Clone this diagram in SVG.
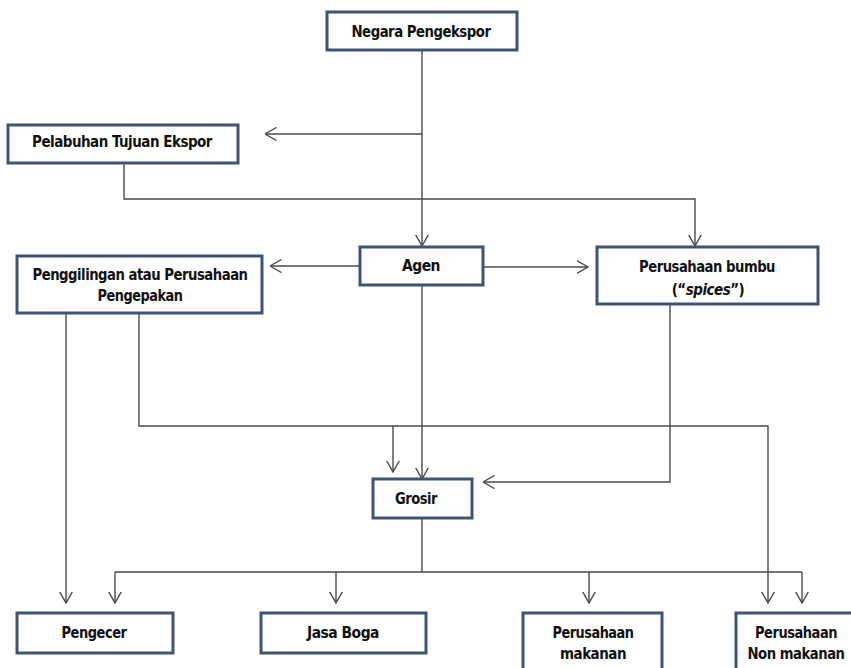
<svg xmlns="http://www.w3.org/2000/svg" width="851" height="668" viewBox="0 0 851 668">
<defs>
<marker id="arr" markerUnits="userSpaceOnUse" viewBox="0 0 12 14" refX="11.5" refY="7" markerWidth="12" markerHeight="14" orient="auto">
<path d="M0,0.5 L11.5,7 L0,13.5" fill="none" stroke="#4a4a4a" stroke-width="1.4"/>
</marker>
<style>
.box{fill:#fff;stroke:#3e5470;stroke-width:3}
.t{font-family:"DejaVu Sans Condensed","DejaVu Sans","Liberation Sans",sans-serif;font-stretch:condensed;font-weight:bold;font-size:15px;fill:#111;text-anchor:middle;letter-spacing:-0.5px}
.c{fill:none;stroke:#4a4a4a;stroke-width:1.4}
.a{marker-end:url(#arr)}
</style>
</defs>
<rect width="851" height="668" fill="#fff"/>
<g id="connectors">
<path class="c a" d="M422,51 V246"/>
<path class="c a" d="M422,134 H265"/>
<path class="c a" d="M124,164 V199 H695 V246"/>
<path class="c a" d="M359,266 H270"/>
<path class="c a" d="M483,267 H588"/>
<path class="c a" d="M66,313 V603"/>
<path class="c a" d="M139,313 V426 H768 V603"/>
<path class="c a" d="M393,426 V472"/>
<path class="c a" d="M422,285 V479"/>
<path class="c a" d="M670,304 V482 H483"/>
<path class="c" d="M422,518 V572 M115,572 H802"/>
<path class="c a" d="M115,572 V603"/>
<path class="c a" d="M336,572 V603"/>
<path class="c a" d="M589,572 V603"/>
<path class="c a" d="M802,572 V603"/>
</g>
<g id="negara">
<rect class="box" x="327" y="12" width="190" height="38"/>
<text class="t" x="421" y="37" textLength="139" lengthAdjust="spacingAndGlyphs">Negara Pengekspor</text>
</g>
<g id="pelabuhan">
<rect class="box" x="8" y="125" width="230" height="38"/>
<text class="t" x="122" y="147" textLength="180" lengthAdjust="spacingAndGlyphs">Pelabuhan Tujuan Ekspor</text>
</g>
<g id="penggilingan">
<rect class="box" x="17" y="256" width="245" height="57"/>
<text class="t" x="140" y="280" textLength="215" lengthAdjust="spacingAndGlyphs">Penggilingan atau Perusahaan</text>
<text class="t" x="140" y="301" textLength="85" lengthAdjust="spacingAndGlyphs">Pengepakan</text>
</g>
<g id="agen">
<rect class="box" x="360" y="247" width="123" height="38"/>
<text class="t" x="421" y="271" textLength="38" lengthAdjust="spacingAndGlyphs">Agen</text>
</g>
<g id="bumbu">
<rect class="box" x="597" y="247" width="221" height="57"/>
<text class="t" x="707" y="272" textLength="136" lengthAdjust="spacingAndGlyphs">Perusahaan bumbu</text>
<text class="t" x="708" y="295">(“<tspan font-style="italic">spices</tspan>”)</text>
</g>
<g id="grosir">
<rect class="box" x="373" y="479" width="99" height="39"/>
<text class="t" x="416" y="504" textLength="42" lengthAdjust="spacingAndGlyphs">Grosir</text>
</g>
<g id="pengecer">
<rect class="box" x="17" y="613" width="156" height="40"/>
<text class="t" x="94" y="638" textLength="65" lengthAdjust="spacingAndGlyphs">Pengecer</text>
</g>
<g id="jasaboga">
<rect class="box" x="261" y="613" width="165" height="40"/>
<text class="t" x="343" y="638" textLength="72" lengthAdjust="spacingAndGlyphs">Jasa Boga</text>
</g>
<g id="makanan">
<rect class="box" x="523" y="613" width="139" height="62"/>
<text class="t" x="593" y="638" textLength="81" lengthAdjust="spacingAndGlyphs">Perusahaan</text>
<text class="t" x="593" y="659" textLength="66" lengthAdjust="spacingAndGlyphs">makanan</text>
</g>
<g id="nonmakanan">
<rect class="box" x="736" y="613" width="120" height="62"/>
<text class="t" x="796" y="638" textLength="82" lengthAdjust="spacingAndGlyphs">Perusahaan</text>
<text class="t" x="796" y="659" textLength="97" lengthAdjust="spacingAndGlyphs">Non makanan</text>
</g>
</svg>
